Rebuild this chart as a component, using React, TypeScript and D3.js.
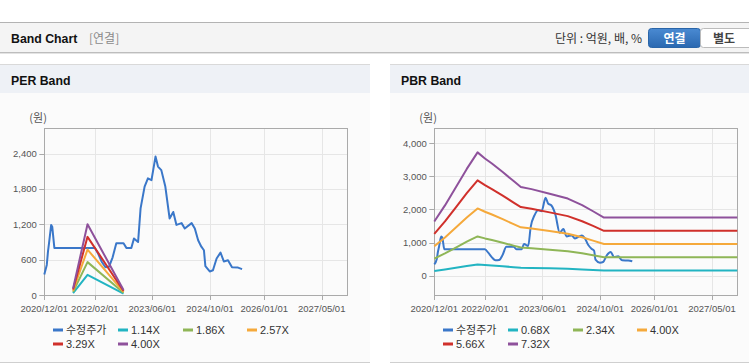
import React from 'react';
import * as d3 from 'd3';

const parse = d3.timeParse('%Y-%m-%d');

// ---- shared data ----
const priceDates = [
  '2020-12-01', '2020-12-22', '2021-01-01', '2021-01-10', '2021-01-28', '2021-02-06', '2021-02-24',
  '2022-02-01', '2022-03-01', '2022-04-01', '2022-05-01', '2022-06-01', '2022-07-01', '2022-08-01',
  '2022-10-01', '2022-10-25', '2022-12-06', '2022-12-28', '2023-02-01', '2023-02-22', '2023-03-28',
  '2023-04-25', '2023-05-25', '2023-06-28', '2023-07-19', '2023-08-16', '2023-09-19', '2023-10-25',
  '2023-11-25', '2023-12-22', '2024-02-03', '2024-03-01', '2024-04-28', '2024-05-25', '2024-06-22',
  '2024-07-19', '2024-08-10', '2024-08-22', '2024-09-28', '2024-10-25', '2024-11-25', '2024-12-28',
  '2025-01-25', '2025-03-01', '2025-04-04', '2025-05-25', '2025-06-28',
];
const priceValues = [
  350, 510, 735, 880, 1190, 1160, 800,
  800, 700, 560, 470, 480, 640, 880,
  880, 800, 800, 960, 900, 1470, 1840,
  1980, 1950, 2350, 2180, 2120, 1840, 1300,
  1410, 1190, 1220, 1130, 1220, 1130, 930,
  820, 760, 490, 400, 420, 620, 720,
  570, 590, 470, 465, 440,
];

const xDomainDates = ['2020-12-01', '2027-12-01'];
const xTickDates = ['2020-12-01', '2022-02-01', '2023-06-01', '2024-10-01', '2026-01-01', '2027-05-01'];

// ---- PER band ----
const perBandDates = ['2021-08-01', '2021-12-01', '2022-10-01'];
const perBandNames = ['1.14X', '1.86X', '2.57X', '3.29X', '4.00X'];
const perBand114 = [32, 342, 24];
const perBand186 = [52, 558, 39];
const perBand257 = [72, 771, 54];
const perBand329 = [92, 987, 69];
const perBand400 = [112, 1200, 84];
const perYTicks = [0, 600, 1200, 1800, 2400];

// ---- PBR band ----
const pbrBandDates = [
  '2020-12-01', '2021-03-01', '2021-06-01', '2021-09-01', '2021-12-01', '2022-02-01', '2022-04-01',
  '2022-07-01', '2022-10-01', '2022-12-01', '2023-03-01', '2023-08-01', '2024-01-01', '2024-05-01',
  '2024-08-01', '2024-11-01', '2027-12-01',
];
const pbrBandNames = ['0.68X', '2.34X', '4.00X', '5.66X', '7.32X'];
const pbrBand068 = [152, 197, 248, 299, 345, 328, 314, 290, 265, 249, 243, 230, 216, 198, 181, 163, 163];
const pbrBand234 = [524, 679, 854, 1030, 1189, 1130, 1081, 999, 913, 856, 835, 791, 744, 681, 622, 562, 562];
const pbrBand400 = [896, 1160, 1460, 1760, 2032, 1932, 1848, 1708, 1560, 1464, 1428, 1352, 1272, 1164, 1064, 960, 960];
const pbrBand566 = [1268, 1641, 2066, 2490, 2875, 2734, 2615, 2417, 2207, 2072, 2021, 1913, 1800, 1647, 1506, 1358, 1358];
const pbrBand732 = [1640, 2123, 2672, 3221, 3719, 3536, 3382, 3126, 2855, 2679, 2613, 2474, 2328, 2130, 1947, 1757, 1757];
const pbrYTicks = [0, 1000, 2000, 3000, 4000];

const priceName = '수정주가';
const priceColor = '#3a77c9';
const bandColors = ['#22b4c2', '#8fb657', '#f5a93b', '#d0302b', '#8e519b'];

const LATIN = "'Liberation Sans', Arial, 'Noto Sans CJK KR', sans-serif";
const KR = "'Noto Sans CJK KR', 'Liberation Sans', sans-serif";

type Series = { name: string; color: string; dates: string[]; values: number[] };

function Panel(props: {
  px: number; pw: number; title: string;
  left: number; right: number; top: number; bottom: number;
  yDomain: [number, number]; yTicks: number[];
  series: Series[]; smoothPrice: boolean;
}) {
  const { px, pw, title, left, right, top, bottom, yDomain, yTicks, series, smoothPrice } = props;
  const x = d3.scaleTime()
    .domain(xDomainDates.map((d) => parse(d) as Date))
    .range([left, right]);
  const y = d3.scaleLinear().domain(yDomain).range([bottom, top]);
  const fmtY = d3.format(',');
  const fmtX = d3.timeFormat('%Y/%m/%d');
  const ticksX = xTickDates.map((d) => parse(d) as Date);

  const legendCols = [53, 118, 183, 247];
  const legendRows = [330, 344];

  return (
    <g>
      <rect x={px} y={64} width={pw} height={299} fill="#fbfbfb" />
      <rect x={px} y={64} width={pw} height={29} fill="#eef1f6" />
      <line x1={px} x2={px + pw} y1={64.5} y2={64.5} stroke="#d9d9d9" />
      <line x1={px} x2={px + pw} y1={362.5} y2={362.5} stroke="#cfcfcf" />
      <text x={px + 11} y={84.5} fontFamily={LATIN} fontWeight={700} fontSize={12.3} fill="#111">{title}</text>

      <text x={left - 15} y={122} fontFamily={KR} fontSize={11} fill="#555">(원)</text>

      {/* grid */}
      {ticksX.map((t, i) => (
        <line key={'gx' + i} x1={Math.round(x(t)) + 0.5} x2={Math.round(x(t)) + 0.5} y1={top} y2={bottom} stroke="#e6e6e6" />
      ))}
      {yTicks.map((t, i) => (
        <line key={'gy' + i} x1={left} x2={right} y1={Math.round(y(t)) + 0.5} y2={Math.round(y(t)) + 0.5} stroke="#e6e6e6" />
      ))}
      <rect x={Math.round(left) + 0.5} y={Math.round(top) + 0.5} width={Math.round(right) - Math.round(left)} height={Math.round(bottom) - Math.round(top)} fill="none" stroke="#aaaaaa" />
      {ticksX.map((t, i) => (
        <line key={'tx' + i} x1={Math.round(x(t)) + 0.5} x2={Math.round(x(t)) + 0.5} y1={bottom} y2={bottom + 5} stroke="#aaaaaa" />
      ))}
      {yTicks.map((t, i) => (
        <line key={'ty' + i} x1={left - 5} x2={left} y1={Math.round(y(t)) + 0.5} y2={Math.round(y(t)) + 0.5} stroke="#aaaaaa" />
      ))}

      {/* tick labels */}
      {ticksX.map((t, i) => (
        <text key={'lx' + i} x={x(t)} y={311.5} textAnchor="middle" fontFamily={LATIN} fontSize={9.5} fill="#555">{fmtX(t)}</text>
      ))}
      {yTicks.map((t, i) => (
        <text key={'ly' + i} x={left - 7.5} y={y(t) + 3.5} textAnchor="end" fontFamily={LATIN} fontSize={9.5} fill="#555">{fmtY(t)}</text>
      ))}

      {/* lines */}
      {series.map((s, i) => {
        const pts = s.dates.map((d, j) => [x(parse(d) as Date), y(s.values[j])] as [number, number]);
        const gen = d3.line().curve(i === 0 && smoothPrice ? d3.curveMonotoneX : d3.curveLinear);
        return (
          <path key={'s' + i} d={gen(pts) || ''} fill="none" stroke={s.color} strokeWidth={2} strokeLinejoin="round" />
        );
      })}

      {/* legend */}
      {series.map((s, i) => {
        const cx = px + legendCols[i % 4];
        const cy = legendRows[Math.floor(i / 4)];
        return (
          <g key={'lg' + i}>
            <rect x={cx} y={cy - 1.5} width={10} height={3} fill={s.color} />
            <text x={cx + 13} y={cy + 4} fontFamily={LATIN} fontSize={11} fill="#333">{s.name}</text>
          </g>
        );
      })}
    </g>
  );
}

export default function App() {
  const perSeries: Series[] = [
    { name: priceName, color: priceColor, dates: priceDates, values: priceValues },
    { name: perBandNames[0], color: bandColors[0], dates: perBandDates, values: perBand114 },
    { name: perBandNames[1], color: bandColors[1], dates: perBandDates, values: perBand186 },
    { name: perBandNames[2], color: bandColors[2], dates: perBandDates, values: perBand257 },
    { name: perBandNames[3], color: bandColors[3], dates: perBandDates, values: perBand329 },
    { name: perBandNames[4], color: bandColors[4], dates: perBandDates, values: perBand400 },
  ];
  const pbrSeries: Series[] = [
    { name: priceName, color: priceColor, dates: priceDates, values: priceValues },
    { name: pbrBandNames[0], color: bandColors[0], dates: pbrBandDates, values: pbrBand068 },
    { name: pbrBandNames[1], color: bandColors[1], dates: pbrBandDates, values: pbrBand234 },
    { name: pbrBandNames[2], color: bandColors[2], dates: pbrBandDates, values: pbrBand400 },
    { name: pbrBandNames[3], color: bandColors[3], dates: pbrBandDates, values: pbrBand566 },
    { name: pbrBandNames[4], color: bandColors[4], dates: pbrBandDates, values: pbrBand732 },
  ];

  return (
    <svg width={749} height={364} style={{ position: 'absolute', left: 0, top: 0, background: '#fff' }}>
      <defs>
        <linearGradient id="btnBlue" x1="0" y1="0" x2="0" y2="1">
          <stop offset="0" stopColor="#4a8ad2" />
          <stop offset="1" stopColor="#2a68b0" />
        </linearGradient>
      </defs>
      {/* top header */}
      <rect x={0} y={0} width={749} height={364} fill="#ffffff" />
      <rect x={0} y={22} width={749} height={31} fill="#f4f4f4" />
      <line x1={0} x2={749} y1={22.5} y2={22.5} stroke="#b3b3b3" />
      <line x1={0} x2={749} y1={52.5} y2={52.5} stroke="#bdbdbd" />
      <line x1={0} x2={749} y1={53.5} y2={53.5} stroke="#e3e3e3" />
      <text x={11} y={42.5} fontFamily={LATIN} fontWeight={700} fontSize={12.3} fill="#111">Band Chart</text>
      <text x={89} y={42.5} fontFamily={KR} fontSize={12} fill="#8a8a8a">[연결]</text>
      <text x={642} y={42.5} textAnchor="end" fontFamily={KR} fontSize={12} fill="#333">단위 : 억원, 배, %</text>
      <rect x={648.5} y={28.5} width={52} height={19} rx={3} fill="url(#btnBlue)" stroke="#2a65a8" />
      <text x={674.5} y={42.5} textAnchor="middle" fontFamily={KR} fontWeight={700} fontSize={12} fill="#fff">연결</text>
      <rect x={700.5} y={28.5} width={60} height={19} rx={3} fill="#ffffff" stroke="#bbbbbb" />
      <text x={724} y={42.5} textAnchor="middle" fontFamily={KR} fontWeight={700} fontSize={12} fill="#444">별도</text>

      <Panel px={0} pw={370} title="PER Band" left={44.3} right={347} top={128} bottom={295}
        yDomain={[0, 2835]} yTicks={perYTicks} series={perSeries} smoothPrice={false} />
      <Panel px={390} pw={359} title="PBR Band" left={434.3} right={737.3} top={128} bottom={295}
        yDomain={[-573, 4452]} yTicks={pbrYTicks} series={pbrSeries} smoothPrice={true} />
    </svg>
  );
}
